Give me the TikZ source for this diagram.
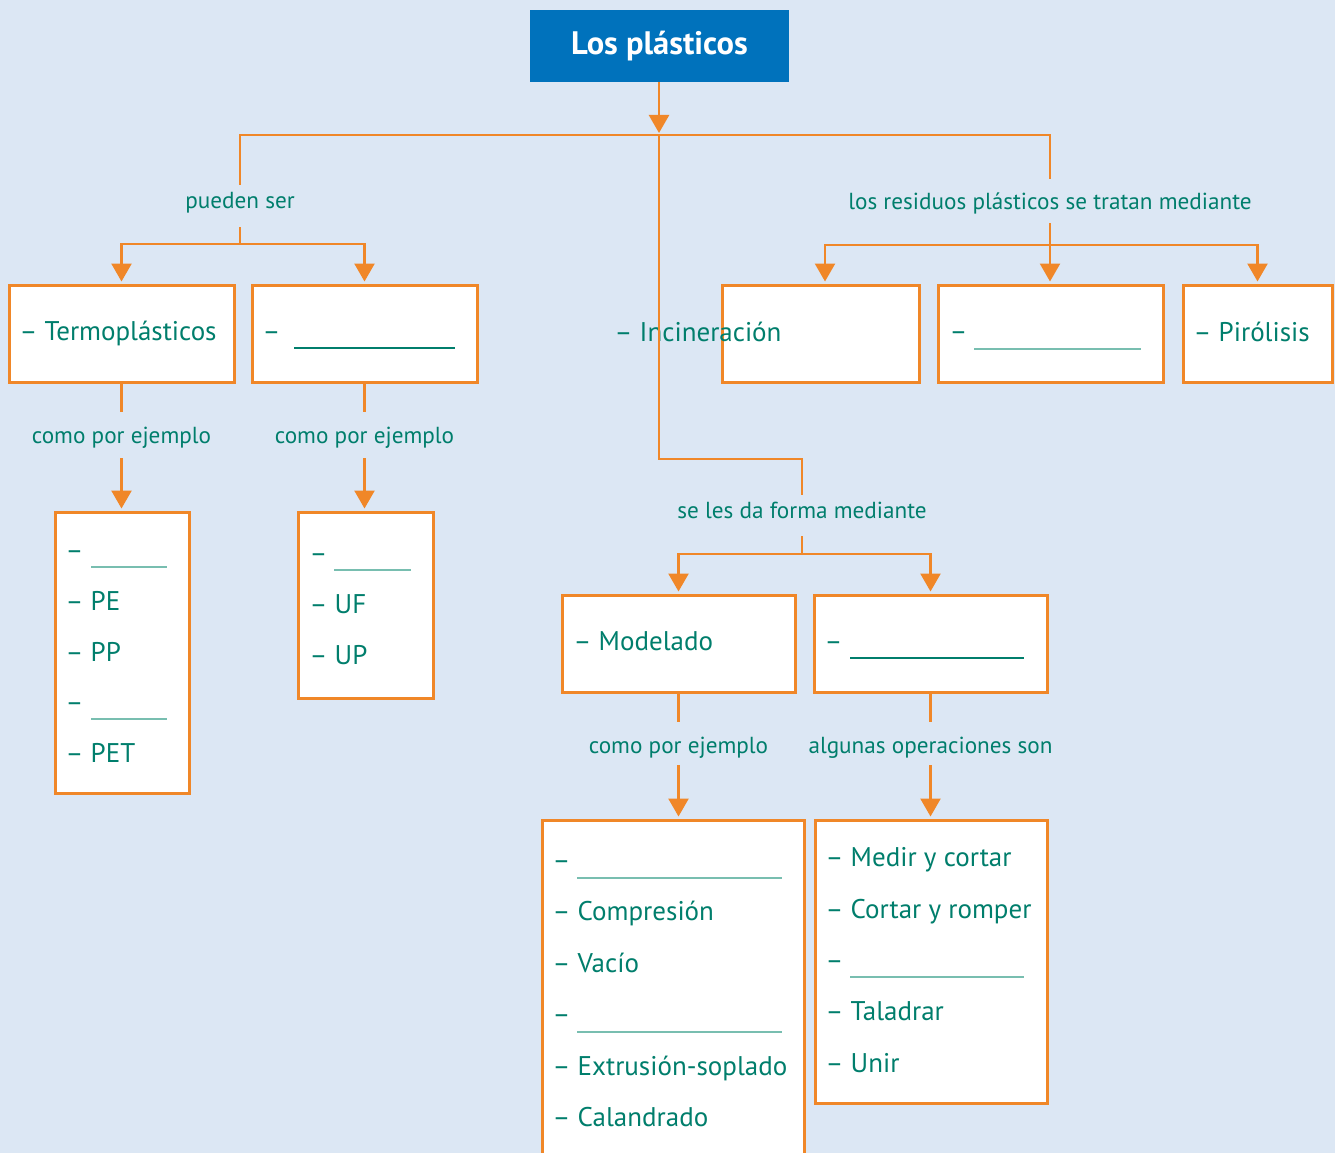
\documentclass[tikz,border=0pt]{standalone}
\usepackage{fontspec}
\setmainfont{PT Sans}
\usetikzlibrary{arrows.meta}
\definecolor{bg}{RGB}{220,231,244}
\definecolor{org}{RGB}{240,135,40}
\definecolor{tl}{RGB}{0,126,108}
\definecolor{ulight}{RGB}{120,190,176}
\definecolor{blu}{RGB}{0,114,188}
\begin{document}
\begin{tikzpicture}[x=1pt,y=-1pt,
 box/.style={draw=org, line width=3pt, fill=white, inner sep=0pt},
 ln/.style={draw=org, line width=2.5pt},
 arr/.style={ln, -{Triangle[width=20pt,length=18pt]}, shorten >=2pt},
 lbl/.style={text=tl, font=\fontsize{23.2}{27}\selectfont, inner sep=0pt, anchor=base},
 txt/.style={text=tl, font=\fontsize{27}{32}\selectfont, inner sep=0pt, anchor=base west, xshift=-3.5pt},
 ul/.style={draw=ulight, line width=1.5pt},
 uld/.style={draw=tl, line width=1.5pt}]
\useasboundingbox (0,0) rectangle (1335,1153);
\clip (0,0) rectangle (1335,1153);
\fill[bg] (0,0) rectangle (1335,1153);

% title
\node[fill=blu, minimum width=259pt, minimum height=72pt, inner sep=0pt, text=white, font=\fontsize{32.5}{38}\selectfont\bfseries] (title) at (659.5,46) {Los plásticos};

% row 1 boxes
\node[box, minimum width=225pt, minimum height=97pt] (termo) at (121.5,333.5) {};
\node[box, minimum width=225pt, minimum height=97pt] (blank1) at (364.5,333.5) {};
\node[box, minimum width=197pt, minimum height=97pt] (incin) at (820.5,333.5) {};
\node[box, minimum width=225pt, minimum height=97pt] (blank2) at (1050.5,333.5) {};
\node[box, minimum width=149pt, minimum height=97pt] (piro) at (1257.5,333.5) {};

% row 2 boxes
\node[box, minimum width=134pt, minimum height=281pt] (pebox) at (122,652.5) {};
\node[box, minimum width=135pt, minimum height=186pt] (ufbox) at (365.5,605) {};
\node[box, minimum width=233pt, minimum height=97pt] (model) at (678.5,643.5) {};
\node[box, minimum width=233pt, minimum height=97pt] (blank3) at (930.5,643.5) {};

% row 3 boxes
\node[box, minimum width=262pt, minimum height=360pt] (modlist) at (673,1000) {};
\node[box, minimum width=232pt, minimum height=283pt] (oplist) at (931,961.5) {};

% box texts
\node[txt] (tTermo) at (23,340) {– Termoplásticos};
\node[txt] (tB1) at (266,340) {–};
\draw[uld] (294,348) -- (455,348);
\node[txt] (tInc) at (618,341) {– Incineración};
\node[txt] (tB2) at (953,340) {–};
\draw[ul] (974,349) -- (1141,349);
\node[txt] (tPiro) at (1197,341) {– Pirólisis};

\node[txt] (tPe0) at (69,559) {–};
\draw[ul] (91,567) -- (167,567);
\node[txt] (tPe1) at (69,610) {– PE};
\node[txt] (tPe2) at (69,661) {– PP};
\node[txt] (tPe3) at (69,711) {–};
\draw[ul] (91,719) -- (167,719);
\node[txt] (tPe4) at (69,762) {– PET};

\node[txt] (tUf0) at (313,562) {–};
\draw[ul] (334,570) -- (411,570);
\node[txt] (tUf1) at (313,613) {– UF};
\node[txt] (tUf2) at (313,664) {– UP};

\node[txt] (tMod) at (577,650) {– Modelado};
\node[txt] (tB3) at (828,650) {–};
\draw[uld] (850,658) -- (1024,658);

\node[txt] (tM0) at (556,869) {–};
\draw[ul] (577,878) -- (782,878);
\node[txt] (tM1) at (556,920.5) {– Compresión};
\node[txt] (tM2) at (556,972) {– Vacío};
\node[txt] (tM3) at (556,1023.5) {–};
\draw[ul] (577,1032) -- (782,1032);
\node[txt] (tM4) at (556,1075) {– Extrusión-soplado};
\node[txt] (tM5) at (556,1126.5) {– Calandrado};

\node[txt] (tO1) at (829,866) {– Medir y cortar};
\node[txt] (tO2) at (829,918) {– Cortar y romper};
\node[txt] (tO3) at (829,969) {–};
\draw[ul] (850,977) -- (1024,977);
\node[txt] (tO4) at (829,1020) {– Taladrar};
\node[txt] (tO5) at (829,1072) {– Unir};

% labels
\node[lbl, text height=23pt, text depth=19pt] (pueden) at (240,208) {pueden ser};
\node[lbl, text height=30pt, text depth=14pt] (residuos) at (1050,209) {los residuos plásticos se tratan mediante};
\node[lbl, text height=31pt, text depth=15pt] (como1) at (121.5,443) {como por ejemplo};
\node[lbl, text height=31pt, text depth=15pt] (como2) at (364.5,443) {como por ejemplo};
\node[lbl, text height=23pt, text depth=18pt] (seles) at (802,518) {se les da forma mediante};
\node[lbl, text height=31pt, text depth=12pt] (como3) at (678.5,753) {como por ejemplo};
\node[lbl, text height=31pt, text depth=12pt] (algunas) at (930.5,753) {algunas operaciones son};

% connectors
\coordinate (jT) at (659,135);
\coordinate (jR) at (1050,135);
\coordinate (jM) at (659,459);
\coordinate (bL) at (240,244);
\coordinate (bR) at (1050,245);
\coordinate (bM) at (802,554);

\draw[arr] (title.south -| jT) -- (jT);
\draw[ln] (pueden.north) |- (jR) -- (residuos.north);
\draw[ln] (jT) -- (jM) -| (seles.north);

\draw[ln] (pueden.south) -- (bL);
\draw[arr] (bL) -| (termo.north);
\draw[arr] (bL) -| (blank1.north);

\draw[arr] (residuos.south) -- (residuos.south |- blank2.north);
\draw[arr] (bR) -| ([xshift=4.5pt]incin.north);
\draw[arr] (bR) -| (piro.north);

\draw[ln] (termo.south) -- (como1.north);
\draw[arr] (como1.south) -- (como1.south |- pebox.north);
\draw[ln] (blank1.south) -- (como2.north);
\draw[arr] (como2.south) -- (como2.south |- ufbox.north);

\draw[ln] (seles.south) -- (bM);
\draw[arr] (bM) -| (model.north);
\draw[arr] (bM) -| (blank3.north);

\draw[ln] (model.south) -- (como3.north);
\draw[arr] (como3.south) -- (como3.south |- modlist.north);
\draw[ln] (blank3.south) -- (algunas.north);
\draw[arr] (algunas.south) -- (algunas.south |- oplist.north);
\end{tikzpicture}
\end{document}
